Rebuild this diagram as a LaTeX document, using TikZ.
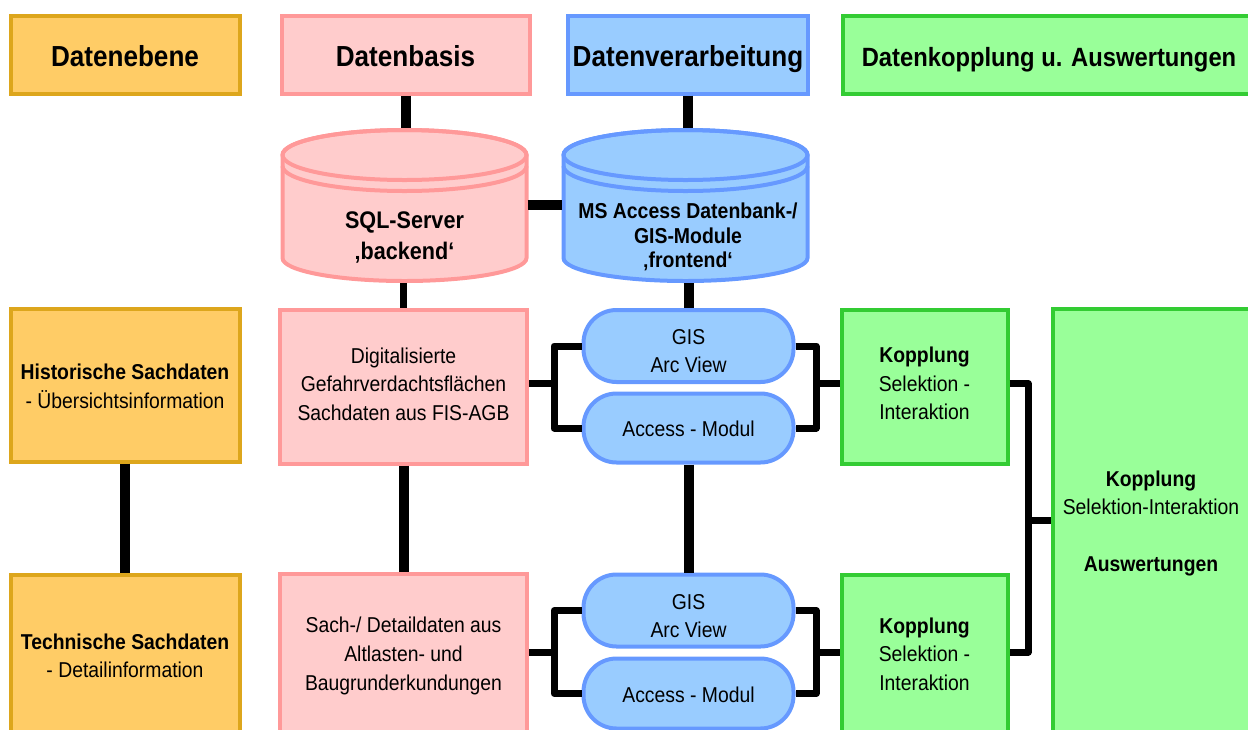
\documentclass[tikz,border=0pt]{standalone}
\usepackage{fontspec}
\setmainfont[FakeStretch=0.9]{Liberation Sans}
\definecolor{layerfill}{HTML}{FFCC66}
\definecolor{layerline}{HTML}{DDA61C}
\definecolor{basefill}{HTML}{FFCCCC}
\definecolor{baseline}{HTML}{FF9999}
\definecolor{procfill}{HTML}{99CCFF}
\definecolor{procline}{HTML}{6699FF}
\definecolor{linkfill}{HTML}{99FF99}
\definecolor{linkline}{HTML}{33CC33}

\begin{document}
\begin{tikzpicture}[x=1pt,y=-1pt]
\tikzstyle{box} = [rectangle, line width=4pt, align=center, inner sep=0pt, font=\fontsize{21.5}{28.6}\selectfont]
\tikzstyle{layerBox} = [box, draw=layerline, fill=layerfill]
\tikzstyle{baseBox} = [box, draw=baseline, fill=basefill]
\tikzstyle{procBox} = [box, draw=procline, fill=procfill]
\tikzstyle{linkBox} = [box, draw=linkline, fill=linkfill]
\tikzstyle{headbox} = [font=\fontsize{29}{32}\selectfont\bfseries, minimum height=78pt, text height=29pt, text depth=6pt]
\tikzstyle{pill} = [procBox, rounded corners=33pt, minimum width=210pt]
\tikzstyle{drumNode} = [inner sep=0pt, minimum width=246pt, minimum height=155pt]
\tikzstyle{drumLabel} = [align=center, inner sep=0pt, font=\fontsize{24}{31}\selectfont\bfseries]
\tikzstyle{wire} = [line width=7pt, line join=round]
\tikzstyle{wireFat} = [line width=10pt]

\path[use as bounding box, clip] (0,0) rectangle (1248,729);

% column heads
\node (headLayer) [layerBox, headbox, minimum width=229pt] at (125,54.5) {Datenebene};
\node (headBase) [baseBox, headbox, minimum width=248pt] at (405.5,54.5) {Datenbasis};
\node (headProc) [procBox, headbox, minimum width=240pt] at (688,54.5) {Datenverarbeitung};
\node (headLink) [linkBox, headbox, font=\fontsize{26.4}{32}\selectfont\bfseries, minimum width=412pt] at (1049,54.5) {Datenkopplung u. Auswertungen};

% the two drums
\foreach \cx/\drumFill/\drumLine in {404.5/basefill/baseline, 685.5/procfill/procline} {
  \draw[line width=4pt, draw=\drumLine, fill=\drumFill] (\cx-122,155) -- (\cx-122,258)
    arc[start angle=180, end angle=0, x radius=122, y radius=23] -- (\cx+122,155)
    arc[start angle=0, end angle=-180, x radius=122, y radius=25] -- cycle;
  \draw[line width=4pt, draw=\drumLine] (\cx,155) ellipse [x radius=122, y radius=25];
  \draw[line width=4pt, draw=\drumLine] (\cx-122,166) arc[start angle=180, end angle=0, x radius=122, y radius=25];
}
\node (sql) [drumNode] at (404.5,205.5) {};
\node (access) [drumNode] at (685.5,205.5) {};
\node (sqlText) [drumLabel] at (404.5,237) {SQL-Server\\‚backend‘};
\node (accessText) [drumLabel, font=\fontsize{21.6}{24.6}\selectfont\bfseries] at (688,237) {MS Access Datenbank-/\\GIS-Module\\‚frontend‘};

% upper row
\node (hist) [layerBox, minimum width=229pt, minimum height=153pt] at (125,385) {\rule{0pt}{18pt}\textbf{Historische Sachdaten}\\- Übersichtsinformation};
\node (digi) [baseBox, minimum width=247pt, minimum height=154pt] at (403.5,386.5) {Digitalisierte\\Gefahrverdachtsflächen\\Sachdaten aus FIS-AGB\rule[-5pt]{0pt}{0pt}};
\node (gisUp) [pill, minimum height=72pt] at (688.5,346) {\rule{0pt}{25pt}GIS\\Arc View};
\node (accUp) [pill, minimum height=69pt] at (688.5,428) {\rule{0pt}{18pt}Access - Modul};
\node (kopUp) [linkBox, minimum width=166pt, minimum height=154pt] at (924.5,386.5) {\textbf{Kopplung}\\Selektion -\\Interaktion\rule[-6pt]{0pt}{0pt}};

% lower row
\node (tech) [layerBox, minimum width=229pt, minimum height=162pt] at (125,656) {\textbf{Technische Sachdaten}\\- Detailinformation};
\node (detail) [baseBox, minimum width=247pt, minimum height=164pt] at (403.5,656) {Sach-/ Detaildaten aus\\Altlasten- und\\Baugrunderkundungen};
\node (gisLow) [pill, minimum height=72pt] at (688.5,610.5) {\rule{0pt}{26pt}GIS\\Arc View};
\node (accLow) [pill, minimum height=70pt] at (688.5,693.5) {\rule{0pt}{18pt}Access - Modul};
\node (kopLow) [linkBox, minimum width=166pt, minimum height=158pt] at (924.5,654) {\textbf{Kopplung}\\Selektion -\\Interaktion};

% right block
\node (result) [linkBox, minimum width=197pt, minimum height=429pt] at (1151,523.5) {\textbf{Kopplung}\\Selektion-Interaktion\\[28.6pt]\textbf{Auswertungen}};

% vertical links
\draw[wireFat] (headBase.south) -- (headBase.south |- sql.north);
\draw[wireFat] (headProc.south) -- (headProc.south |- access.north);
\draw[wire] (digi.north |- sql.south) -- (digi.north);
\draw[wireFat] (gisUp.north |- access.south) -- (gisUp.north);
\draw[wireFat] (sql.east |- 0,205) -- (access.west |- 0,205);
\draw[wireFat] (hist.south) -- (tech.north);
\draw[wireFat] (digi.south) -- (detail.north);
\draw[wireFat] (accUp.south) -- (gisLow.north);

% brackets round the pills
\coordinate (forkUpL) at (554,383.5);
\coordinate (forkUpR) at (816,383.5);
\coordinate (forkLowL) at (554,652);
\coordinate (forkLowR) at (816,652);
\coordinate (busTop) at (1028,383.5);
\coordinate (busEnd) at (1028,652);
\coordinate (busMid) at (1028,520);
\draw[wire] (digi.east |- forkUpL) -- (forkUpL);
\draw[wire] (gisUp.west) -| (forkUpL) |- (accUp.west);
\draw[wire] (gisUp.east) -| (forkUpR) |- (accUp.east);
\draw[wire] (forkUpR) -- (kopUp.west |- forkUpR);
\draw[wire] (detail.east |- forkLowL) -- (forkLowL);
\draw[wire] (gisLow.west) -| (forkLowL) |- (accLow.west);
\draw[wire] (gisLow.east) -| (forkLowR) |- (accLow.east);
\draw[wire] (forkLowR) -- (kopLow.west |- forkLowR);

% bus to the right block
\draw[wire] (kopUp.east |- busTop) -- (busTop) -- (busEnd) -- (kopLow.east |- busEnd);
\draw[wire] (busMid) -- (result.west |- busMid);

\end{tikzpicture}
\end{document}
